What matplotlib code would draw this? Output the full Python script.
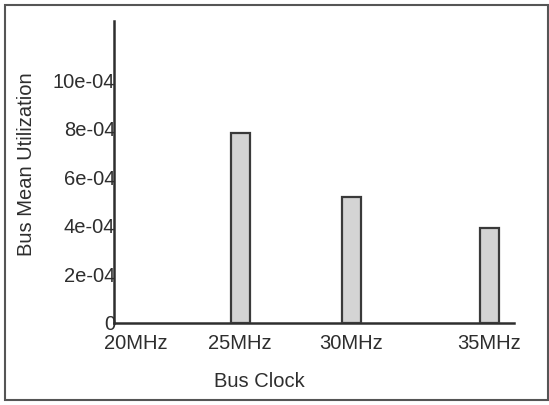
import matplotlib.pyplot as plt
from matplotlib.patches import Rectangle

# data
clocks = ["20MHz", "25MHz", "30MHz", "35MHz"]
utilization = [0.0, 7.83e-4, 5.2e-4, 3.9e-4]
ytick_values = [0, 2e-4, 4e-4, 6e-4, 8e-4, 10e-4]
ytick_labels = ["0", "2e-04", "4e-04", "6e-04", "8e-04", "10e-04"]

# bar positions along the x axis (uneven in the original)
positions = [0.22, 1.26, 2.37, 3.75]

plt.rcParams["font.family"] = ["Liberation Sans", "DejaVu Sans"]
ink = "#2e2e2e"
fs = 14.5

fig = plt.figure(figsize=(5.49, 4.05), dpi=100)
ax = fig.add_axes([114 / 549, 1 - 323 / 405, 400 / 549, 302 / 405])

# the 20MHz bar is zero high, so only the non-zero bars get drawn
shown = [(p, u) for p, u in zip(positions, utilization) if u > 0]
ax.bar([p for p, _ in shown], [u for _, u in shown], width=0.19,
       color="#d4d4d4", edgecolor="#3a3a3a", linewidth=1.6, zorder=3)

ax.set_xlim(0, 4.0)
ax.set_ylim(0, 12.45e-4)

ax.set_xticks(positions)
ax.set_xticklabels(clocks)
ax.set_yticks(ytick_values)
ax.set_yticklabels(ytick_labels)
ax.tick_params(axis="both", length=0, labelsize=fs, colors=ink)
ax.tick_params(axis="y", pad=-1)
ax.tick_params(axis="x", pad=8)

for side in ("top", "right"):
    ax.spines[side].set_visible(False)
for side in ("left", "bottom"):
    ax.spines[side].set_color(ink)
    ax.spines[side].set_linewidth(1.8)

ax.set_xlabel("Bus Clock", fontsize=fs, color=ink)
ax.xaxis.set_label_coords(0.3625, -0.195)
ax.xaxis.label.set_va("center")
ax.set_ylabel("Bus Mean Utilization", fontsize=fs, color=ink)
ax.yaxis.set_label_coords(-0.2175, 0.525)
ax.yaxis.label.set_va("center")

# outer frame around the whole chart
fig.patches.append(Rectangle((5 / 549, 5 / 405), 543 / 549, 395 / 405,
                             transform=fig.transFigure, fill=False,
                             edgecolor="#555555", linewidth=1.5))

plt.savefig("out.png", dpi=100)
